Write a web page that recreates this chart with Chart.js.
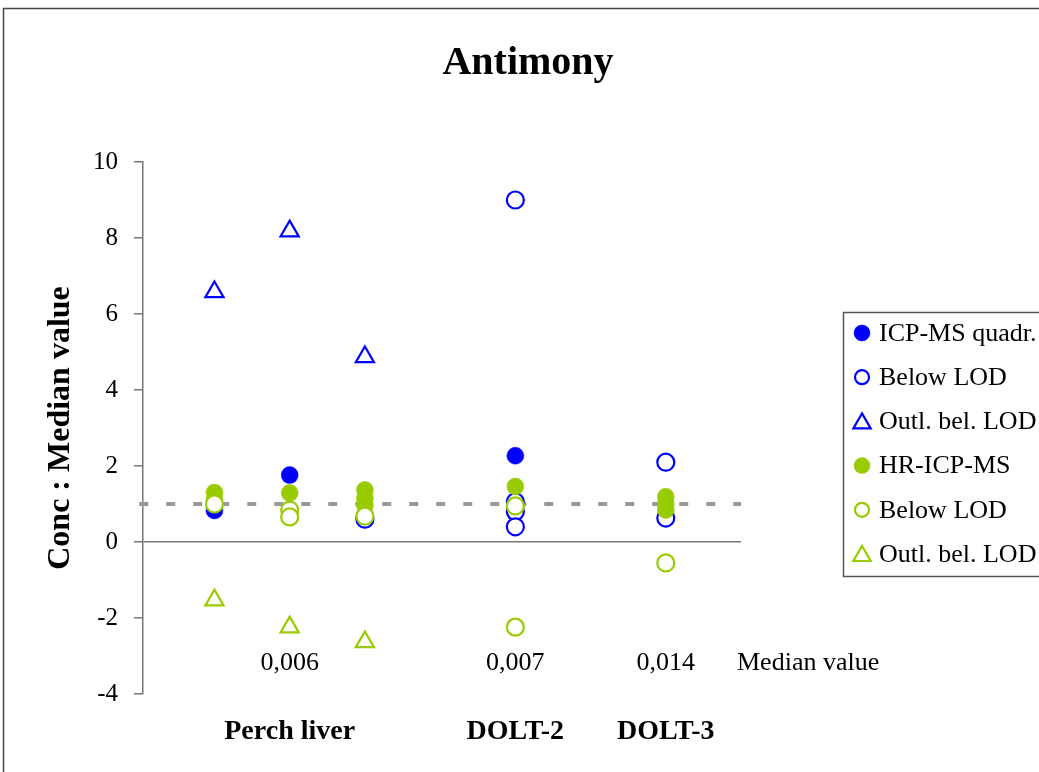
<!DOCTYPE html>
<html>
<head>
<meta charset="utf-8">
<title>Antimony</title>
<script src="https://cdn.jsdelivr.net/npm/chart.js@4.4.1/dist/chart.umd.min.js"></script>
<style>
  html, body { margin: 0; padding: 0; background: #fff; }
  #wrap { width: 1039px; height: 772px; }
</style>
</head>
<body>
<div id="wrap"><canvas id="c" width="1039" height="772"></canvas></div>
<script>
// Samples along the x axis and their median concentrations
const sampleNames = ['Perch liver', 'DOLT-2', 'DOLT-3'];
const samplePos = [2, 5, 7];
const medianLabels = ['0,006', '0,007', '0,014'];
const medianCaption = 'Median value';
const yTicks = [-4, -2, 0, 2, 4, 6, 8, 10];

// Conc : median ratios per laboratory (x = sample slot)
const icpQuadr     = [{x: 1, y: 0.83}, {x: 2, y: 1.76}, {x: 5, y: 2.27}];
const icpBelowLod  = [{x: 3, y: 0.60}, {x: 5, y: 9.00}, {x: 5, y: 1.06}, {x: 5, y: 0.80}, {x: 5, y: 0.40}, {x: 7, y: 2.10}, {x: 7, y: 0.63}];
const icpOutlier   = [{x: 1, y: 6.58}, {x: 2, y: 8.18}, {x: 3, y: 4.87}];
const hrIcp        = [{x: 1, y: 1.30}, {x: 1, y: 1.12}, {x: 2, y: 1.29}, {x: 3, y: 1.37}, {x: 3, y: 1.15}, {x: 3, y: 0.97}, {x: 5, y: 1.46}, {x: 7, y: 1.19}, {x: 7, y: 1.00}, {x: 7, y: 0.84}];
const hrBelowLod   = [{x: 1, y: 1.00}, {x: 2, y: 0.84}, {x: 2, y: 0.66}, {x: 3, y: 0.68}, {x: 5, y: 0.95}, {x: 5, y: -2.24}, {x: 7, y: -0.55}];
const hrOutlier    = [{x: 1, y: -1.53}, {x: 2, y: -2.24}, {x: 3, y: -2.63}];
const medianRef    = [{x: 0, y: 1}, {x: 8, y: 1}];

const BLUE = '#0000FF';
const GREEN = '#99CC00';
const SERIF = '"Liberation Serif", "Times New Roman", serif';
const MEDIAN_ROW = -3.18;   // y value where the median labels sit

function markerSet(label, data, color, style, filled, order) {
  const tri = style === 'triangle';
  return {
    type: 'scatter', label, data, order,
    pointStyle: style,
    pointRadius: tri ? 10.5 : 8.5,
    backgroundColor: filled ? color : '#FFFFFF',
    borderColor: color,
    borderWidth: filled ? 0.5 : 2.2,
    pointHoverRadius: tri ? 10.5 : 8.5
  };
}

const frameAndText = {
  id: 'frameAndText',
  beforeDraw(chart) {
    const ctx = chart.ctx;
    ctx.save();
    ctx.fillStyle = '#fff';
    ctx.fillRect(0, 0, chart.width, chart.height);
    ctx.strokeStyle = '#444';
    ctx.lineWidth = 1.5;
    ctx.strokeRect(3.5, 8.5, chart.width + 20, chart.height + 20);
    ctx.restore();
  },
  afterDraw(chart) {
    const ctx = chart.ctx;
    const xs = chart.scales.x, ys = chart.scales.y;
    ctx.save();
    // title
    ctx.fillStyle = '#000';
    ctx.textAlign = 'center';
    ctx.textBaseline = 'middle';
    ctx.font = 'bold 40px ' + SERIF;
    ctx.fillText('Antimony', 528, 64);

    // median values under each sample
    ctx.font = '26px ' + SERIF;
    const rowY = ys.getPixelForValue(MEDIAN_ROW);
    medianLabels.forEach((t, i) => {
      ctx.fillText(t, xs.getPixelForValue(samplePos[i]), rowY);
    });
    ctx.textAlign = 'left';
    ctx.fillText(medianCaption, chart.chartArea.right - 4, rowY);

    // legend
    const lx = 843, ly = 312, rowH = 44.2;
    ctx.strokeStyle = '#555';
    ctx.lineWidth = 1.5;
    ctx.strokeRect(lx + 0.5, ly + 0.5, 260, 264);
    ctx.font = '26px ' + SERIF;
    let i = 0;
    chart.data.datasets.forEach(ds => {
      if (!ds.inLegend) return;
      const cy = ly + 21 + i * rowH;
      const tri = ds.pointStyle === 'triangle';
      ctx.fillStyle = ds.backgroundColor;
      ctx.strokeStyle = ds.borderColor;
      ctx.lineWidth = ds.borderWidth;
      const r = tri ? 10 : (ds.borderWidth > 1 ? 7 : 8);
      Chart.helpers.drawPoint(ctx, {pointStyle: ds.pointStyle, radius: r, borderWidth: ds.borderWidth, rotation: 0},
        lx + 19, tri ? cy + 2 : cy);
      ctx.fillStyle = '#000';
      ctx.textBaseline = 'middle';
      ctx.fillText(ds.label, lx + 36, cy + 1);
      i++;
    });
    ctx.restore();
  }
};

const datasets = [
  Object.assign(markerSet('ICP-MS quadr.', icpQuadr, BLUE, 'circle', true, 7), {inLegend: true}),
  Object.assign(markerSet('Below LOD', icpBelowLod, BLUE, 'circle', false, 6), {inLegend: true}),
  Object.assign(markerSet('Outl. bel. LOD', icpOutlier, BLUE, 'triangle', false, 5), {inLegend: true}),
  Object.assign(markerSet('HR-ICP-MS', hrIcp, GREEN, 'circle', true, 4), {inLegend: true}),
  Object.assign(markerSet('Below LOD', hrBelowLod, GREEN, 'circle', false, 3), {inLegend: true}),
  Object.assign(markerSet('Outl. bel. LOD', hrOutlier, GREEN, 'triangle', false, 2), {inLegend: true}),
  {
    type: 'line', label: 'median', data: medianRef, order: 10,
    borderColor: '#999999', borderWidth: 4, borderDash: [9, 18],
    pointRadius: 0, fill: false, clip: false, inLegend: false
  }
];

new Chart(document.getElementById('c'), {
  type: 'scatter',
  data: { datasets },
  options: {
    responsive: false,
    animation: false,
    events: [],
    layout: { padding: { left: 0, top: 162, right: 298, bottom: 0 } },
    plugins: { legend: { display: false }, title: { display: false }, tooltip: { enabled: false } },
    scales: {
      x: {
        type: 'linear', min: 0.05, max: 8,
        afterBuildTicks: s => { s.ticks = samplePos.map(v => ({value: v})); },
        afterFit: s => { s.height = 78; },
        grid: { display: false, drawTicks: false },
        border: { display: false },
        ticks: {
          autoSkip: false, maxRotation: 0, padding: 21, color: '#000',
          font: { family: SERIF, size: 28, weight: 'bold' },
          callback: v => { const k = samplePos.indexOf(v); return k >= 0 ? sampleNames[k] : ''; }
        }
      },
      y: {
        min: -4, max: 10,
        afterBuildTicks: s => { s.ticks = yTicks.map(v => ({value: v})); },
        afterFit: s => { s.width = 143; },
        border: { display: true, color: '#777', width: 1.5 },
        grid: {
          color: c => (c.tick && c.tick.value === 0) ? '#777' : 'rgba(0,0,0,0)',
          lineWidth: 1.5, tickColor: '#777', tickLength: 9, drawTicks: true
        },
        ticks: { padding: 16, color: '#000', font: { family: SERIF, size: 25 } },
        title: {
          display: true, text: 'Conc : Median value', color: '#000',
          font: { family: SERIF, size: 32, weight: 'bold' },
          padding: { top: 42, bottom: 0 }
        }
      }
    }
  },
  plugins: [frameAndText]
});
</script>
</body>
</html>
